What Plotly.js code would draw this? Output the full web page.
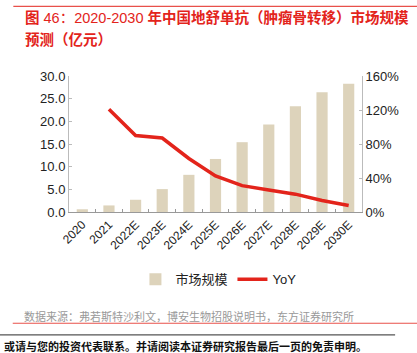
<!DOCTYPE html>
<html>
<head>
<meta charset="utf-8">
<script src="https://cdn.plot.ly/plotly-3.0.1.min.js"></script>
<style>html,body{margin:0;padding:0;background:#fff;}#chart{width:417px;height:353px;}</style>
</head>
<body>
<div id="chart"></div>
<script>
const years = ['2020','2021','2022E','2023E','2024E','2025E','2026E','2027E','2028E','2029E','2030E'];
const marketSize = [0.6, 1.45, 2.7, 5.05, 8.2, 11.7, 15.4, 19.3, 23.3, 26.4, 28.3];
const yoy = [null, 121, 90, 87, 63, 42.5, 31, 26, 21, 13.6, 7.7];
const barName = '市场规模';
const lineName = 'YoY';
const titleLine1 = '<b>图</b> 46：2020-2030 <b>年中国地舒单抗（肿瘤骨转移）市场规模</b>';
const titleLine2 = '<b>预测（亿元）</b>';
const sourceText = '数据来源：弗若斯特沙利文，博安生物招股说明书，东方证券研究所';
const disclaimer = '或请与您的投资代表联系。并请阅读本证券研究报告最后一页的免责申明。';

const FONT = 'Liberation Sans, Arial, Noto Sans CJK SC, sans-serif';
const RED = '#e3241b';

const traces = [
  {type:'bar', x:years, y:marketSize, name:barName, marker:{color:'#ddd3bb'}, width:0.42, yaxis:'y'},
  {type:'scatter', mode:'lines', x:years, y:yoy, name:lineName, line:{color:RED, width:3.5}, yaxis:'y2', connectgaps:false}
];

const layout = {
  width:417, height:353,
  margin:{l:69, r:55, t:76, b:141, pad:0},
  paper_bgcolor:'#fff', plot_bgcolor:'#fff',
  font:{family:FONT, color:'#222', size:13},
  showlegend:true,
  legend:{orientation:'h', x:0.51, xanchor:'center', y:-0.495, yanchor:'middle',
          font:{size:13, family:FONT, color:'#222'}, itemwidth:30, tracegroupgap:0},
  xaxis:{type:'category', range:[-0.5,10.5], tickangle:-45, tickson:'boundaries',
         ticks:'inside', ticklen:3, tickcolor:'#999', showline:true, linecolor:'#999', linewidth:1,
         showgrid:false, tickfont:{size:12, color:'#222'}, fixedrange:true},
  yaxis:{range:[0,30], dtick:5, tickformat:'.1f', ticks:'inside', ticklen:3, tickcolor:'#bbb',
         showline:true, linecolor:'#bbb', linewidth:1, showgrid:false, zeroline:false,
         tickfont:{size:13, color:'#222'}, fixedrange:true},
  yaxis2:{range:[0,160], dtick:40, ticksuffix:'%', overlaying:'y', side:'right',
          ticks:'inside', ticklen:3, tickcolor:'#bbb', showline:true, linecolor:'#bbb', linewidth:1,
          showgrid:false, zeroline:false, tickfont:{size:13, color:'#222'}, fixedrange:true},
  shapes:[
    {type:'line', xref:'paper', yref:'paper', x0:-0.190, x1:1.2, y0:1.5125, y1:1.5125, line:{color:'#e8504a', width:1.2}},
    {type:'line', xref:'paper', yref:'paper', x0:-0.192, x1:1.2, y0:-0.818, y1:-0.818, line:{color:'#e8504a', width:1.2}},
    {type:'line', xref:'paper', yref:'paper', x0:-0.25, x1:1.113, y0:-0.9035, y1:-0.9035, line:{color:'#555', width:1.2}}
  ],
  annotations:[
    {xref:'paper', yref:'paper', x:-0.158, y:1.43, xanchor:'left', yanchor:'middle', showarrow:false,
     text:titleLine1, font:{size:14.5, color:RED, family:'Liberation Sans, Noto Sans CJK SC, sans-serif'}},
    {xref:'paper', yref:'paper', x:-0.158, y:1.262, xanchor:'left', yanchor:'middle', showarrow:false,
     text:titleLine2, font:{size:14.5, color:RED, family:'Liberation Sans, Noto Sans CJK SC, sans-serif'}},
    {xref:'paper', yref:'paper', x:-0.162, y:-0.764, xanchor:'left', yanchor:'middle', showarrow:false,
     text:sourceText, font:{size:11, color:'#999', family:'Noto Sans CJK SC, sans-serif'}},
    {xref:'paper', yref:'paper', x:-0.230, y:-0.984, xanchor:'left', yanchor:'middle', showarrow:false,
     text:disclaimer, font:{size:11, color:'#111', family:'Noto Sans CJK SC, sans-serif', weight:'bold'}}
  ]
};

Plotly.newPlot('chart', traces, layout, {displayModeBar:false, staticPlot:true});
</script>
</body>
</html>
